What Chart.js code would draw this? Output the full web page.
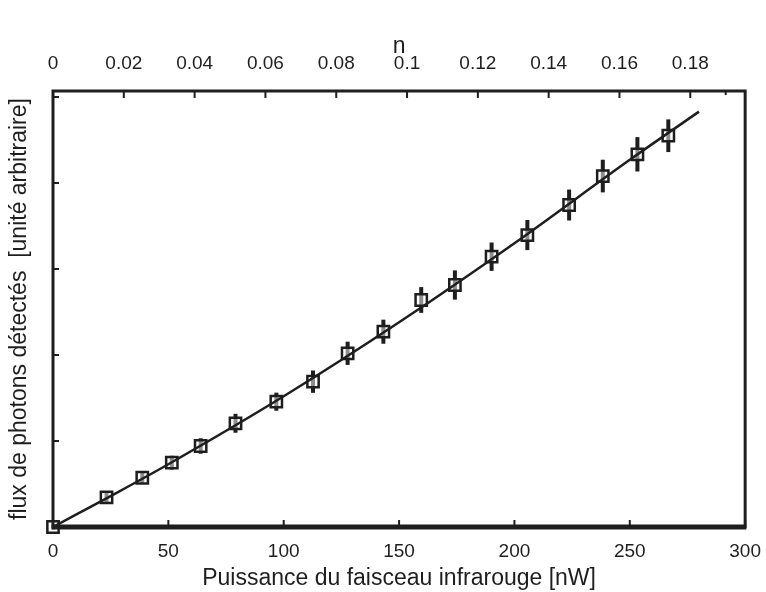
<!DOCTYPE html>
<html lang="fr">

<head>
    <meta charset="UTF-8">
    <title>Flux de photons</title>
    <script src="https://cdn.jsdelivr.net/npm/chart.js@4.4.0/dist/chart.umd.min.js"></script>
    <style>
        body { margin: 0; background: #fff; }
        #wrap { width: 766px; height: 592px; }
    </style>
</head>

<body>
    <div id="wrap">
        <canvas id="myChart" width="766" height="592"></canvas>
    </div>

    <script>
        const power = [0, 23.2, 38.7, 51.5, 64.0, 79.1, 96.8, 112.7, 127.7, 143.2, 159.6, 174.2, 190.1, 205.6, 223.7, 238.3, 253.3, 266.7];
        const flux = [0, 0.345, 0.573, 0.748, 0.942, 1.206, 1.457, 1.690, 2.020, 2.271, 2.640, 2.814, 3.143, 3.395, 3.744, 4.081, 4.334, 4.550];
        const fluxErr = [0.03, 0.06, 0.06, 0.08, 0.09, 0.11, 0.105, 0.13, 0.135, 0.14, 0.15, 0.17, 0.165, 0.175, 0.18, 0.19, 0.2, 0.19];

        // courbe d'ajustement
        const fitPower = [0, 25, 50, 100, 150, 200, 250, 280];
        const fitFlux = [0, 0.36, 0.73, 1.52, 2.38, 3.30, 4.27, 4.83];

        // axes
        const xTicks = [0, 50, 100, 150, 200, 250, 300];
        const nTicks = [0, 0.02, 0.04, 0.06, 0.08, 0.1, 0.12, 0.14, 0.16, 0.18];
        const nMinor = [0.19];
        const yTicks = [1, 2, 3, 4, 5];
        const nMax = 0.1955;
        const yMax = 5.07;

        const ink = '#1e1e1e';
        const family = '"Liberation Sans", Arial, Helvetica, sans-serif';

        const frame = {
            id: 'frame',
            beforeDatasetsDraw(chart) {
                const { ctx, scales } = chart;
                ctx.save();
                ctx.strokeStyle = ink;
                ctx.lineWidth = 4;
                power.forEach((p, i) => {
                    const x = scales.x.getPixelForValue(p);
                    ctx.beginPath();
                    ctx.moveTo(x, scales.y.getPixelForValue(flux[i] - fluxErr[i]));
                    ctx.lineTo(x, scales.y.getPixelForValue(flux[i] + fluxErr[i]));
                    ctx.stroke();
                });
                ctx.restore();
            },
            afterDraw(chart) {
                const { ctx, chartArea: a, scales } = chart;
                ctx.save();
                ctx.strokeStyle = ink;
                ctx.lineWidth = 2;
                // ticks vers l'interieur
                xTicks.forEach(v => {
                    const x = scales.x.getPixelForValue(v);
                    ctx.beginPath(); ctx.moveTo(x, a.bottom); ctx.lineTo(x, a.bottom - 7); ctx.stroke();
                });
                nTicks.forEach(v => {
                    const x = scales.x2.getPixelForValue(v);
                    ctx.beginPath(); ctx.moveTo(x, a.top); ctx.lineTo(x, a.top + 7); ctx.stroke();
                });
                nMinor.forEach(v => {
                    const x = scales.x2.getPixelForValue(v);
                    ctx.beginPath(); ctx.moveTo(x, a.top); ctx.lineTo(x, a.top + 4); ctx.stroke();
                });
                yTicks.forEach(v => {
                    const y = scales.y.getPixelForValue(v);
                    ctx.beginPath(); ctx.moveTo(a.left, y); ctx.lineTo(a.left + 6, y); ctx.stroke();
                });
                // cadre
                ctx.lineWidth = 3;
                ctx.strokeRect(a.left, a.top, a.right - a.left, a.bottom - a.top);
                ctx.lineWidth = 5;
                ctx.beginPath(); ctx.moveTo(a.left - 1, a.bottom); ctx.lineTo(a.right + 1, a.bottom); ctx.stroke();
                ctx.restore();
            }
        };

        const ctx = document.getElementById('myChart').getContext('2d');
        new Chart(ctx, {
            data: {
                datasets: [{
                    type: 'line',
                    data: fitPower.map((p, i) => ({ x: p, y: fitFlux[i] })),
                    borderColor: ink,
                    borderWidth: 2.5,
                    pointRadius: 0,
                    cubicInterpolationMode: 'monotone',
                    clip: false
                }, {
                    type: 'scatter',
                    data: power.map((p, i) => ({ x: p, y: flux[i] })),
                    pointStyle: 'rect',
                    pointRadius: 8,
                    borderColor: ink,
                    borderWidth: 2.5,
                    backgroundColor: 'rgba(255,255,255,0.5)',
                    clip: false
                }]
            },
            options: {
                responsive: false,
                animation: false,
                layout: { padding: { left: 0, right: 16, top: 0, bottom: 0 } },
                plugins: { legend: { display: false }, tooltip: { enabled: false } },
                scales: {
                    x: {
                        type: 'linear', position: 'bottom', min: 0, max: 300,
                        afterBuildTicks: s => { s.ticks = xTicks.map(v => ({ value: v })); },
                        afterFit: s => { s.height = 65; },
                        grid: { display: false },
                        border: { display: false },
                        ticks: { color: ink, font: { family, size: 19 }, padding: 5 },
                        title: { display: true, text: 'Puissance du faisceau infrarouge [nW]', color: ink, font: { family, size: 23 }, padding: 0 }
                    },
                    x2: {
                        type: 'linear', position: 'top', min: 0, max: nMax,
                        afterBuildTicks: s => { s.ticks = nTicks.map(v => ({ value: v })); },
                        afterFit: s => { s.height = 91; },
                        grid: { display: false },
                        border: { display: false },
                        ticks: { color: ink, font: { family, size: 19 }, padding: 8, callback: v => String(Number(v.toFixed(2))) },
                        title: { display: true, text: 'n', color: ink, font: { family, size: 23 }, padding: { top: 33, bottom: 0 } }
                    },
                    y: {
                        type: 'linear', position: 'left', min: 0, max: yMax,
                        afterBuildTicks: s => { s.ticks = yTicks.map(v => ({ value: v })); },
                        afterFit: s => { s.width = 53; },
                        grid: { display: false },
                        border: { display: false },
                        ticks: { display: false },
                        title: { display: true, text: 'flux de photons détectés  [unité arbitraire]', color: ink, font: { family, size: 23 }, padding: { top: 6, bottom: 0 } }
                    }
                }
            },
            plugins: [frame]
        });
    </script>
</body>

</html>
